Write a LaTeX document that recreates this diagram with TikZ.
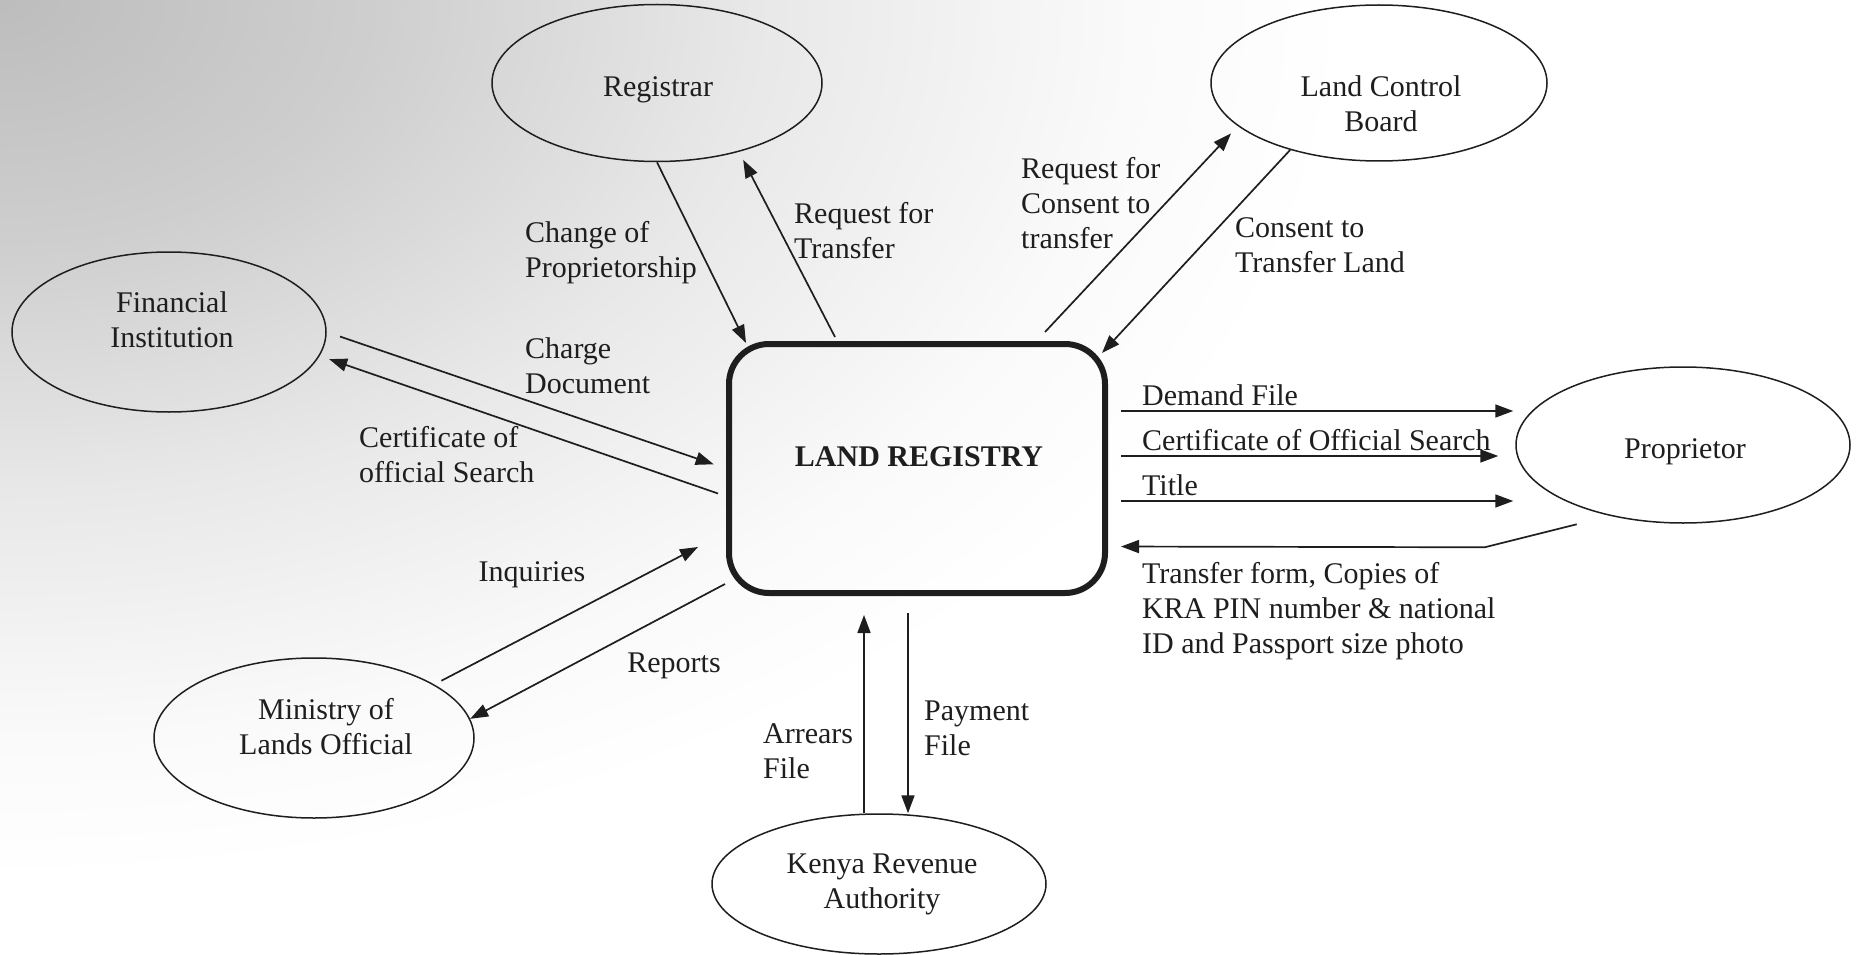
\documentclass[tikz,border=0pt]{standalone}
\usepackage{fontspec}
\setmainfont{Liberation Serif}
\usetikzlibrary{arrows.meta,shapes.geometric,calc}

\definecolor{ink}{HTML}{1E1E1E}

% grey tint that is darkest in one corner and fades out
\pgfdeclareradialshading{cornertint}{\pgfpoint{0bp}{0bp}}{%
  color(0bp)=(black!26); color(7bp)=(black!19); color(14bp)=(black!9);
  color(21bp)=(black!2); color(25bp)=(white); color(100bp)=(white)}

\begin{document}
\begin{tikzpicture}[x=1pt,y=-1pt,
  ent/.style={draw=ink, line width=1.5pt, ellipse, inner sep=0pt},
  txt/.style={text=ink, font=\fontsize{30}{35}\selectfont, align=center, inner sep=0pt},
  lab/.style={txt, align=left, anchor=west},
  flow/.style={draw=ink, line width=1.7pt, -{Triangle[length=18pt,width=13pt]}}]

% page and soft grey tint in the upper left
\useasboundingbox (0,0) rectangle (1858,955);
\fill[white] (0,0) rectangle (1858,955);
\begin{scope}
  \clip (0,0) rectangle (1858,955);
  \shade[shading=cornertint] (0,0) ellipse (1350 and 880);
\end{scope}

% central process
\node[draw=ink, line width=6pt, rounded corners=40pt, minimum width=376pt,
      minimum height=249pt, inner sep=0pt] (lr) at (917,468.5) {};
\node[txt, font=\fontsize{30}{35}\selectfont\bfseries] (lrT) at (919,457) {LAND REGISTRY};

% external entities
\node[ent, minimum width=330pt, minimum height=157pt] (reg)  at (657,83)  {};
\node[ent, minimum width=336pt, minimum height=156pt] (lcb)  at (1379,83) {};
\node[ent, minimum width=314pt, minimum height=160pt] (fi)   at (169,332) {};
\node[ent, minimum width=334pt, minimum height=156pt] (prop) at (1683,445) {};
\node[ent, minimum width=320pt, minimum height=160pt] (min)  at (314,738) {};
\node[ent, minimum width=334pt, minimum height=140pt] (kra)  at (879,884) {};

\node[txt] (regT)  at (658,90)   {Registrar};
\node[txt] (lcbT)  at (1381,104) {Land Control\\Board};
\node[txt] (fiT)   at (172,320)  {Financial\\Institution};
\node[txt] (propT) at (1685,452) {Proprietor};
\node[txt] (minT)  at (326,727)  {Ministry of\\Lands Official};
\node[txt] (kraT)  at (882,884)  {Kenya Revenue\\Authority};

% helper points for the straight runs
\coordinate (arrS) at ([xshift=-15pt]kra.north);
\coordinate (payE) at ([xshift=29pt]kra.north);
\coordinate (dem)  at ([yshift=57.5pt]lr.east);
\coordinate (cos)  at ([yshift=12.5pt]lr.east);
\coordinate (tit)  at ([yshift=-32.5pt]lr.east);
\coordinate (tfE)  at ([yshift=-78pt]lr.east);
\coordinate (tfS)  at ([shift={(-35,8)}]prop.225);

% data flows
\draw[flow] (reg.south) -- ([shift={(20,2)}]lr.north west);
\draw[flow, shorten >=9pt] ([shift={(-82,-4)}]lr.north) -- (reg.-40);
\draw[flow, shorten >=10pt] ([shift={(128,-9)}]lr.north) -- (lcb.197);
\draw[flow] (lcb.217) -- ([shift={(-6,12)}]lr.north east);
\draw[flow, shorten <=14pt, shorten >=13pt] (fi.east) -- (lr.west);
\draw[flow, shorten >=10pt] ([shift={(-8,25)}]lr.west) -- (fi.-9);
\draw[flow, shorten <=8pt] (min.24) -- ([shift={(-28,-49)}]lr.south west);
\draw[flow] ([shift={(-1,-12)}]lr.south west) -- (min.7);
\draw[flow, shorten >=19pt] (arrS) -- (arrS |- lr.south);
\draw[flow, shorten <=17pt] (payE |- lr.south) -- (payE);
\draw[flow, shorten <=13pt, shorten >=2pt] (dem) -- (dem -| prop.west);
\draw[flow, shorten <=13pt, shorten >=17pt] (cos) -- (cos -| prop.west);
\draw[flow, shorten <=13pt, shorten >=2pt] (tit) -- (tit -| prop.west);
\draw[flow, shorten >=13pt] (tfS) -- ++(-92,23) -- (tfE);

% flow labels
\node[lab] (l1)  at (525,253)  {Change of\\Proprietorship};
\node[lab] (l2)  at (794,231)  {Request for\\Transfer};
\node[lab] (l3)  at (1021,203) {Request for\\Consent to\\transfer};
\node[lab] (l4)  at (1235,245) {Consent to\\Transfer Land};
\node[lab] (l5)  at (525,366)  {Charge\\Document};
\node[lab] (l6)  at (359,455)  {Certificate of\\official Search};
\node[txt] (l7)  at (532,575)  {Inquiries};
\node[txt] (l8)  at (674,666)  {Reports};
\node[lab] (l9)  at (763,751)  {Arrears\\File};
\node[lab] (l10) at (924,728)  {Payment\\File};
\node[lab] (l11) at (1142,395) {Demand File};
\node[lab] (l12) at (1142,440) {Certificate of Official Search};
\node[lab] (l13) at (1142,485) {Title};
\node[lab] (l14) at (1142,611) {Transfer form, Copies of\\KRA PIN number \& national\\ID and Passport size photo};
\end{tikzpicture}
\end{document}
